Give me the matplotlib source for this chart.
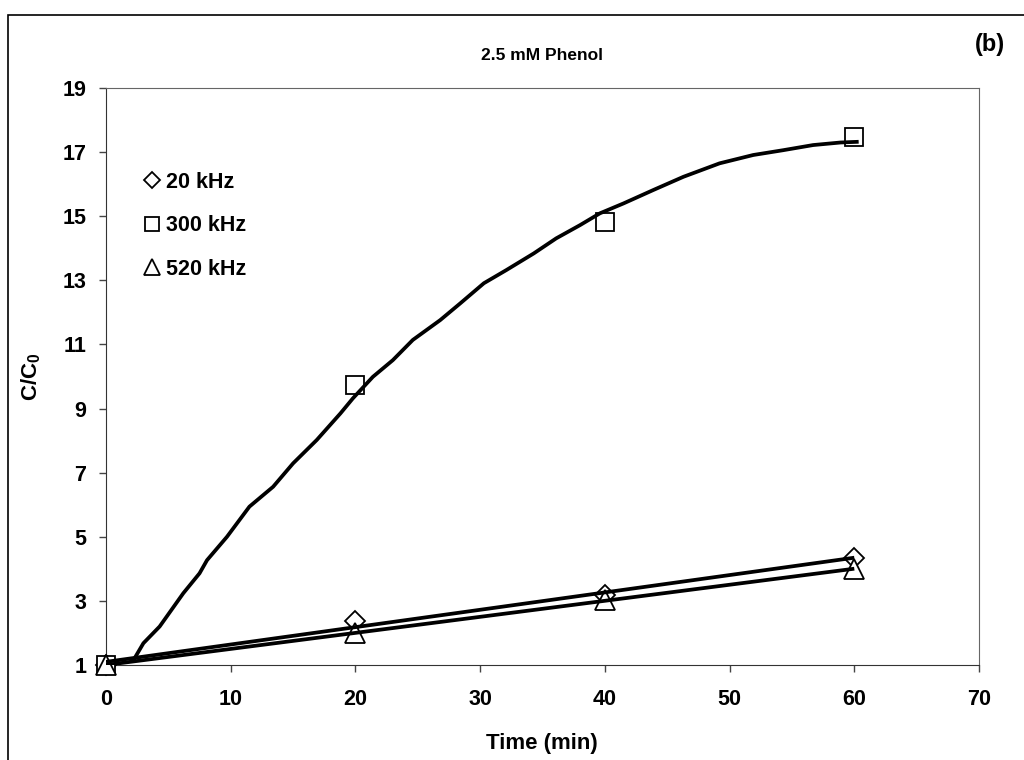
import numpy as np
import matplotlib
matplotlib.use("Agg")
import matplotlib.pyplot as plt
from matplotlib.patches import Rectangle

plt.rcParams['font.family'] = ['Liberation Sans', 'DejaVu Sans']
plt.rcParams['font.weight'] = 'bold'
plt.rcParams['mathtext.fontset'] = 'custom'
plt.rcParams['mathtext.bf'] = 'Liberation Sans:bold'
plt.rcParams['mathtext.rm'] = 'Liberation Sans:bold'

# measured points
time_min = [0, 20, 40, 60]
c_20khz = [1.0, 2.37, 3.18, 4.34]
c_300khz = [1.0, 9.73, 14.83, 17.47]
c_520khz = [1.0, 1.99, 3.03, 3.99]

# 300 kHz trend curve
curve_300_t = [2.2, 3.0, 4.3, 6.2, 7.5, 8.1, 9.7, 11.5, 13.4, 15.0, 16.9, 18.8, 19.8,
               21.4, 23.0, 24.6, 26.8, 28.4, 30.3, 32.1, 34.3, 36.1, 38.0, 39.6,
               41.5, 43.9, 46.3, 49.2, 51.9, 54.3, 56.7, 58.9, 60.2]
curve_300_c = [1.15, 1.68, 2.2, 3.24, 3.86, 4.27, 5.0, 5.94, 6.56, 7.29, 8.02, 8.85, 9.32,
               9.99, 10.51, 11.14, 11.76, 12.28, 12.91, 13.32, 13.84, 14.31, 14.72,
               15.09, 15.40, 15.82, 16.23, 16.65, 16.91, 17.06, 17.22, 17.30, 17.32]

x_ticks = list(range(0, 71, 10))
y_ticks = list(range(1, 20, 2))

fig = plt.figure(figsize=(10.24, 7.6), dpi=100)
ax = fig.add_axes([106 / 1024, 95 / 760, 873 / 1024, 577 / 760])

# linear trendlines for 20 and 520 kHz
t = np.array(time_min)
for series in (c_20khz, c_520khz):
    k, b = np.polyfit(t, series, 1)
    ax.plot([0, 60], [b, b + 60 * k], color='black', lw=2.7, zorder=4,
            solid_capstyle='butt')
ax.plot(curve_300_t, curve_300_c, color='black', lw=2.7, zorder=4)

mk = dict(linestyle='none', markerfacecolor='white', markeredgecolor='black',
          markeredgewidth=1.3, zorder=3, clip_on=False)
ax.plot(time_min, c_20khz, marker='D', markersize=10, label='20 kHz', **mk)
ax.plot(time_min, c_300khz, marker='s', markersize=12.5, label='300 kHz', **mk)
ax.plot(time_min, c_520khz, marker='^', markersize=14, label='520 kHz', **mk)

ax.set_xlim(0, 70)
ax.set_ylim(1, 19)
ax.set_xticks(x_ticks)
ax.set_yticks(y_ticks)
ax.tick_params(axis='both', direction='out', length=5, width=1, color='#444444',
               labelsize=15.5)
ax.tick_params(axis='x', pad=12)
ax.tick_params(axis='y', pad=9)
for side in ('top', 'right'):
    ax.spines[side].set_color('#666666')
for side in ('left', 'bottom'):
    ax.spines[side].set_color('#333333')

leg = ax.legend(loc='upper left', bbox_to_anchor=(0.035, 0.87), frameon=False,
                fontsize=15.5, handlelength=0.6, handletextpad=0.35,
                labelspacing=1.05, markerscale=0.85, borderaxespad=0)

fig.text(542 / 1024, 1 - 56 / 760, '2.5 mM Phenol', ha='center', va='center',
         fontsize=12.5, fontweight='bold')
fig.text(990 / 1024, 1 - 45 / 760, '(b)', ha='center', va='center',
         fontsize=17, fontweight='bold')
fig.text(542 / 1024, 1 - 743 / 760, 'Time (min)', ha='center', va='center',
         fontsize=16, fontweight='bold')
fig.text(31 / 1024, 1 - 377 / 760, r'$\mathbf{C/C_0}$', ha='center', va='center',
         rotation=90, fontsize=16)

fig.add_artist(Rectangle((8 / 1024, -0.02), 1.0, 1.02 - 15 / 760,
                         transform=fig.transFigure, fill=False,
                         edgecolor='black', lw=1.2))

fig.savefig('out.png', dpi=100)
